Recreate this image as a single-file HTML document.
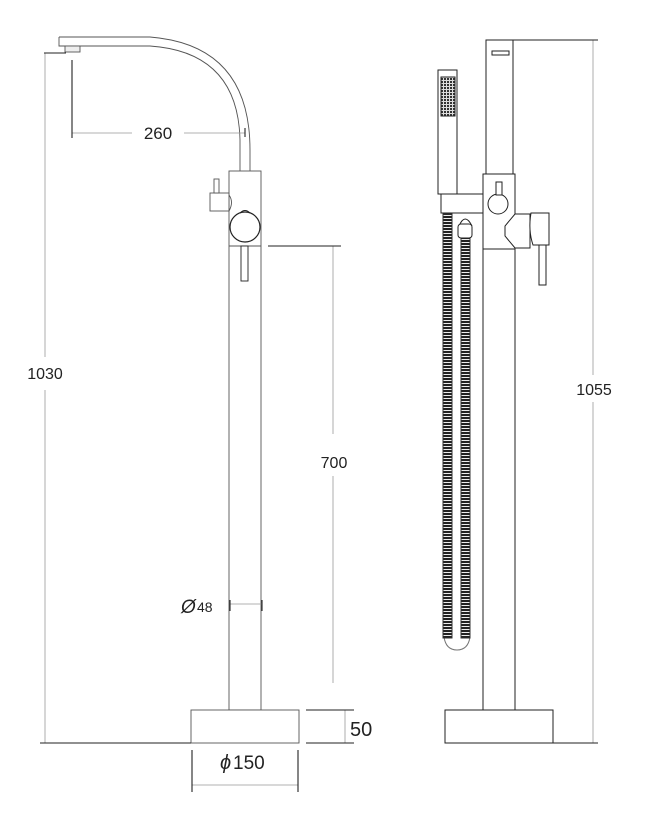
<!DOCTYPE html>
<html><head><meta charset="utf-8"><style>
html,body{margin:0;padding:0;background:#fff;}
svg{display:block;}
text{font-family:"Liberation Sans",sans-serif;fill:#222;}
</style></head><body>
<svg width="660" height="817" viewBox="0 0 660 817" xmlns="http://www.w3.org/2000/svg">
<defs>
<pattern id="hose" width="9" height="3" patternUnits="userSpaceOnUse">
<rect width="9" height="3" fill="#eee"/><rect y="0" width="9" height="2" fill="#222"/>
</pattern>
<pattern id="grid" width="3" height="3" patternUnits="userSpaceOnUse">
<rect width="3" height="3" fill="#ddd"/><rect width="2" height="2" fill="#333"/>
</pattern>
</defs>
<g fill="none" stroke="#555" stroke-width="0.9">
<!-- LEFT VIEW -->
<path d="M59,37 L150,37 Q250,45 250,150 L250,171"/>
<path d="M240,171 L240,140 Q238,52 150,46 L59,46 L59,37"/>
<rect x="65" y="46" width="15" height="6" fill="#eee"/>
<rect x="229" y="171" width="32" height="539" fill="#fff"/>
<line x1="229" y1="246" x2="261" y2="246"/>
<rect x="210" y="193" width="19" height="18" fill="#fff"/>
<rect x="214" y="179" width="5" height="14" fill="#fff"/>
<path d="M229,195 Q234,202 229,211"/>
<circle cx="245" cy="227" r="15" fill="#fff" stroke="#222" stroke-width="1.2"/>
<path d="M240,213 Q245,208 250,213" stroke="#222"/>
<rect x="241" y="246" width="7" height="35" fill="#fff" stroke="#222"/>
<rect x="191" y="710" width="108" height="33" fill="#fff"/>
</g>
<g fill="none" stroke="#999" stroke-width="0.8">
<line x1="45" y1="53" x2="45" y2="357"/><line x1="45" y1="390" x2="45" y2="743"/>
<line x1="72" y1="133" x2="132" y2="133"/><line x1="184" y1="133" x2="245" y2="133"/>
<line x1="333" y1="246" x2="333" y2="434"/><line x1="333" y1="476" x2="333" y2="683"/>
<line x1="230" y1="604" x2="262" y2="604"/>
<line x1="192" y1="785" x2="298" y2="785"/>
<line x1="345" y1="710" x2="345" y2="743"/>
<line x1="593" y1="40" x2="593" y2="375"/><line x1="593" y1="402" x2="593" y2="743"/>
</g>
<g stroke="#222" stroke-width="1.1" fill="none">
<line x1="44" y1="53" x2="66" y2="53"/>
<line x1="72" y1="60" x2="72" y2="138"/>
<line x1="245" y1="128" x2="245" y2="137"/>
<line x1="268" y1="246" x2="341" y2="246"/>
<line x1="40" y1="743" x2="191" y2="743"/>
<line x1="230" y1="600" x2="230" y2="611"/><line x1="262" y1="600" x2="262" y2="611"/>
<line x1="306" y1="710" x2="354" y2="710"/><line x1="306" y1="743" x2="354" y2="743"/>
<line x1="192" y1="750" x2="192" y2="792"/><line x1="298" y1="750" x2="298" y2="792"/>
<line x1="513" y1="40" x2="598" y2="40"/>
<line x1="553" y1="743" x2="598" y2="743"/>
</g>
<g stroke="#222" stroke-width="1" fill="#fff">
<!-- RIGHT VIEW -->
<rect x="486" y="40" width="27" height="134"/>
<rect x="492" y="51" width="17" height="4"/>
<rect x="483" y="249" width="32" height="461"/>
<rect x="445" y="710" width="108" height="33"/>
<rect x="441" y="194" width="42" height="19"/>
<rect x="438" y="70" width="19" height="124"/>
<rect x="441" y="77" width="14" height="39" fill="url(#grid)"/>
<path d="M444,637 Q446,650 457,650 Q468,650 470,637" fill="none" stroke="#777"/>
<rect x="443" y="214" width="9" height="424" fill="url(#hose)" stroke="#333"/>
<rect x="461" y="238" width="9" height="400" fill="url(#hose)" stroke="#333"/>
<path d="M459,226 Q465,212 472,226" fill="#fff"/>
<rect x="458" y="224" width="14" height="14" rx="3"/>
<rect x="483" y="174" width="32" height="75"/>
<path d="M515,214 L530,214 L530,248 L515,248 L505,236 L505,226 Z"/>
<path d="M531,213 L549,213 L549,245 L533,245 Q528,230 531,213 Z"/>
<rect x="539" y="245" width="7" height="40"/>
<circle cx="498" cy="204" r="10"/>
<rect x="496" y="182" width="6" height="13"/>
</g>
<text x="45" y="379" font-size="16" text-anchor="middle">1030</text>
<text x="158" y="139" font-size="17" text-anchor="middle">260</text>
<text x="334" y="468" font-size="16" text-anchor="middle">700</text>
<text x="181" y="613" font-size="19" font-style="italic">Ø</text>
<text x="197" y="612" font-size="14">48</text>
<text x="350" y="736" font-size="20">50</text>
<text x="220" y="769" font-size="20" font-style="italic">ϕ</text>
<text x="233" y="769" font-size="19">150</text>
<text x="594" y="395" font-size="16" text-anchor="middle">1055</text>
</svg>
</body></html>
